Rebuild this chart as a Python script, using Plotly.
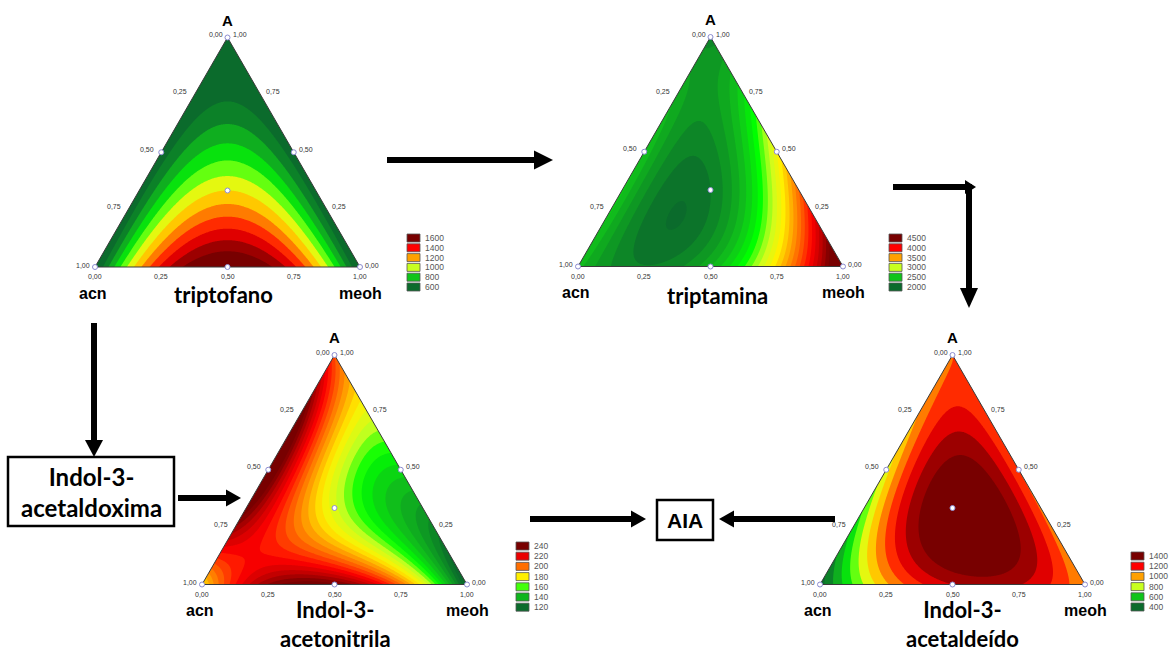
import numpy as np
import plotly.graph_objects as go
from plotly.colors import sample_colorscale

FIG_W, FIG_H = 1170, 651
S3 = np.sqrt(3) / 2
PAD = 0.06  # padding around each triangle, in triangle-side units

# ---------------- data ----------------
# mixture design points (fractions of A, acn, meoh)
design_A    = [1.0, 0.0, 0.0, 0.5, 0.5, 0.0, 1 / 3]
design_acn  = [0.0, 1.0, 0.0, 0.5, 0.0, 0.5, 1 / 3]
design_meoh = [0.0, 0.0, 1.0, 0.0, 0.5, 0.5, 1 / 3]

# responses at the design points
resp_triptofano   = [420, 450, 450, 520, 520, 1750, 1100]
resp_triptamina   = [2150, 2450, 4900, 2500, 3200, 2400, 2100]
resp_acetonitrila = [205, 182, 112, 256, 148, 242, 172]
resp_acetaldeido  = [1100, 350, 1000, 850, 1100, 1300, 1550]

legend_triptofano   = [1600, 1400, 1200, 1000, 800, 600]
legend_triptamina   = [4500, 4000, 3500, 3000, 2500, 2000]
legend_acetonitrila = [240, 220, 200, 180, 160, 140, 120]
legend_acetaldeido  = [1400, 1200, 1000, 800, 600, 400]

tick_vals = [0.0, 0.25, 0.5, 0.75, 1.0]
tick_text = ["0,00", "0,25", "0,50", "0,75", "1,00"]

colorscale = [
    [0.00, "#0B6B2C"], [0.20, "#10C41A"], [0.30, "#00FF00"],
    [0.40, "#C8FF20"], [0.50, "#FFF000"], [0.60, "#FFA000"],
    [0.70, "#FF5500"], [0.80, "#FF0000"], [0.90, "#C00000"],
    [1.00, "#780000"],
]

# ---------------- layout of panels (pixels) ----------------
panels = [
    dict(resp=resp_triptofano, leg=legend_triptofano, step=100,
         left=95, base=267, width=265, title="triptofano",
         tshift=(-4, -27), legpos=(407, 238, 9.8)),
    dict(resp=resp_triptamina, leg=legend_triptamina, step=100,
         left=578, base=266.5, width=265, title="triptamina",
         tshift=(7, -29), legpos=(889, 238, 9.8)),
    dict(resp=resp_acetonitrila, leg=legend_acetonitrila, step=5,
         left=202, base=584.5, width=265, title="Indol-3-<br>acetonitrila",
         tshift=(1, -39), legpos=(516, 546, 10.2)),
    dict(resp=resp_acetaldeido, leg=legend_acetaldeido, step=100,
         left=820, base=584.5, width=265, title="Indol-3-<br>acetaldeído",
         tshift=(10, -39), legpos=(1131, 556, 10.2)),
]


def scheffe_terms(a, c, m):
    return np.stack([a, c, m, a * c, a * m, c * m, a * c * m], axis=-1)


def px(x):
    return x / FIG_W


def py(y):
    return 1 - y / FIG_H


fig = go.Figure()
shapes = []
annotations = []
layout_axes = {}

gx = np.linspace(0, 1, 321)
gy = np.linspace(0, S3, 281)
GX, GY = np.meshgrid(gx, gy)
GA = GY / S3
GM = GX - GA / 2
GC = 1 - GA - GM

lab_font = dict(family="Liberation Sans", size=7, color="#333333")

for i, p in enumerate(panels, start=1):
    xa = "x" if i == 1 else f"x{i}"
    ya = "y" if i == 1 else f"y{i}"
    w = p["width"]
    h = w * S3
    layout_axes["xaxis" if i == 1 else f"xaxis{i}"] = dict(
        domain=[px(p["left"] - PAD * w), px(p["left"] + w + PAD * w)], range=[-PAD, 1 + PAD],
        visible=False, anchor=ya, fixedrange=True)
    layout_axes["yaxis" if i == 1 else f"yaxis{i}"] = dict(
        domain=[py(p["base"] + PAD * w), py(p["base"] - h - PAD * w)], range=[-PAD, S3 + PAD],
        visible=False, anchor=xa, fixedrange=True)

    # fit Scheffe special-cubic mixture model to the design responses
    X = scheffe_terms(np.array(design_A), np.array(design_acn), np.array(design_meoh))
    coef = np.linalg.lstsq(X, np.array(p["resp"], dtype=float), rcond=None)[0]
    Z = scheffe_terms(np.clip(GA, 0, 1), np.clip(GC, 0, 1), np.clip(GM, 0, 1)) @ coef

    lo, hi = min(p["leg"]), max(p["leg"])
    fig.add_trace(go.Contour(
        x=gx, y=gy, z=Z, xaxis=xa, yaxis=ya,
        colorscale=colorscale, zmin=lo, zmax=hi, autocontour=False,
        contours=dict(start=lo, end=hi, size=p["step"], coloring="fill", showlines=False),
        line=dict(width=0), showscale=False, hoverinfo="skip"))

    # white mask outside the triangle, then the outline
    fig.add_trace(go.Scatter(
        x=[-PAD, 0, 0.5, 1, 1 + PAD, 1 + PAD, -PAD, -PAD],
        y=[0, 0, S3, 0, 0, S3 + PAD, S3 + PAD, 0],
        xaxis=xa, yaxis=ya, mode="lines", fill="toself", fillcolor="white",
        line=dict(width=0, color="white"), hoverinfo="skip", showlegend=False))
    fig.add_trace(go.Scatter(
        x=[0, 1, 0.5, 0], y=[0, 0, S3, 0], xaxis=xa, yaxis=ya, mode="lines",
        line=dict(color="#3a3a3a", width=1), hoverinfo="skip", showlegend=False))

    # design points
    dA = np.array(design_A)
    dM = np.array(design_meoh)
    fig.add_trace(go.Scatter(
        x=dM + dA / 2, y=dA * S3, xaxis=xa, yaxis=ya, mode="markers",
        marker=dict(size=5, color="white", line=dict(color="#8c8cd0", width=1)),
        cliponaxis=False, hoverinfo="skip", showlegend=False))

    # tick labels
    for v, t in zip(tick_vals, tick_text):
        annotations.append(dict(x=v, y=0, xref=xa, yref=ya, text=t, showarrow=False,
                                xanchor="center", yanchor="top", yshift=-4, font=lab_font))
    annotations.append(dict(x=0, y=0, xref=xa, yref=ya, text=tick_text[-1], showarrow=False,
                            xanchor="right", yanchor="middle", xshift=-3, yshift=2, font=lab_font))
    annotations.append(dict(x=1, y=0, xref=xa, yref=ya, text=tick_text[0], showarrow=False,
                            xanchor="left", yanchor="middle", xshift=3, yshift=2, font=lab_font))
    annotations.append(dict(x=0.5, y=S3, xref=xa, yref=ya, text=tick_text[0], showarrow=False,
                            xanchor="right", yanchor="middle", xshift=-3, yshift=3, font=lab_font))
    annotations.append(dict(x=0.5, y=S3, xref=xa, yref=ya, text=tick_text[-1], showarrow=False,
                            xanchor="left", yanchor="middle", xshift=3, yshift=3, font=lab_font))
    for v, t in zip(tick_vals[1:-1], tick_text[1:-1]):
        a_left = 1 - v
        annotations.append(dict(x=a_left / 2, y=a_left * S3, xref=xa, yref=ya, text=t,
                                showarrow=False, xanchor="right", yanchor="middle",
                                xshift=-5, yshift=3, font=lab_font))
        annotations.append(dict(x=1 - v / 2, y=v * S3, xref=xa, yref=ya, text=t,
                                showarrow=False, xanchor="left", yanchor="middle",
                                xshift=3, yshift=3, font=lab_font))

    # component labels
    bold = dict(family="Liberation Sans", size=16, color="black")
    annotations.append(dict(x=0.5, y=S3, xref=xa, yref=ya, text="<b>A</b>", showarrow=False,
                            xanchor="center", yanchor="bottom", yshift=7,
                            font=dict(family="Liberation Sans", size=15, color="black")))
    annotations.append(dict(x=0, y=0, xref=xa, yref=ya, text="<b>acn</b>", showarrow=False,
                            xanchor="center", yanchor="middle", yshift=-26, xshift=-2, font=bold))
    annotations.append(dict(x=1, y=0, xref=xa, yref=ya, text="<b>meoh</b>", showarrow=False,
                            xanchor="center", yanchor="middle", yshift=-26, font=bold))
    annotations.append(dict(x=0.5, y=0, xref=xa, yref=ya, text=f"<b>{p['title']}</b>",
                            showarrow=False, xanchor="center", yanchor="middle",
                            xshift=p["tshift"][0], yshift=p["tshift"][1],
                            font=dict(family="Lato", size=22, color="black")))

    # legend swatches
    lx, ly, dy = p["legpos"]
    cols = sample_colorscale(colorscale, [(v - lo) / (hi - lo) for v in p["leg"]])
    for k, (v, c) in enumerate(zip(p["leg"], cols)):
        yc = ly + k * dy
        shapes.append(dict(type="rect", xref="paper", yref="paper",
                           x0=px(lx), x1=px(lx + 13), y0=py(yc - 4), y1=py(yc + 4),
                           fillcolor=c, line=dict(color="#555555", width=0.8)))
        annotations.append(dict(x=px(lx + 16), y=py(yc), xref="paper", yref="paper",
                                text=str(v), showarrow=False, xanchor="left", yanchor="middle",
                                font=dict(family="Liberation Sans", size=8.5, color="#555555")))

# ---------------- arrows and boxes (pixels) ----------------
arrow_lines = [  # (x0, y0, x1, y1)
    (387, 160, 535, 160),
    (893, 187, 966, 187),
    (969, 184, 969, 290),
    (94, 323, 94, 442),
    (178, 498, 229, 498),
    (530, 519, 634, 519),
    (835, 519, 731, 519),
]
arrow_heads = [  # (tip_x, tip_y, direction, length, half_width)
    (553, 160, "r", 19, 9.5),
    (976, 187, "r", 11, 7),
    (969, 308, "d", 20, 9),
    (94, 457, "d", 17, 9),
    (241, 498, "r", 15, 8.5),
    (646, 519, "r", 15, 8.5),
    (719, 519, "l", 15, 8.5),
]
for x0, y0, x1, y1 in arrow_lines:
    shapes.append(dict(type="line", xref="paper", yref="paper",
                       x0=px(x0), y0=py(y0), x1=px(x1), y1=py(y1),
                       line=dict(color="black", width=6)))
for tx, ty, d, ln, hw in arrow_heads:
    if d == "r":
        pts = [(tx, ty), (tx - ln, ty - hw), (tx - ln, ty + hw)]
    elif d == "l":
        pts = [(tx, ty), (tx + ln, ty - hw), (tx + ln, ty + hw)]
    else:
        pts = [(tx, ty), (tx - hw, ty - ln), (tx + hw, ty - ln)]
    path = "M " + " L ".join(f"{px(a)},{py(b)}" for a, b in pts) + " Z"
    shapes.append(dict(type="path", xref="paper", yref="paper", path=path,
                       fillcolor="black", line=dict(width=0)))

boxes = [  # (x0, y0, x1, y1, text, size)
    (8, 457, 174, 526, "Indol-3-<br>acetaldoxima", 24),
    (657, 500, 713, 540, "AIA", 21),
]
for x0, y0, x1, y1, t, s in boxes:
    shapes.append(dict(type="rect", xref="paper", yref="paper",
                       x0=px(x0), y0=py(y0), x1=px(x1), y1=py(y1),
                       fillcolor="white", line=dict(color="black", width=2.5)))
    fam = "Lato" if "Indol" in t else "Liberation Sans"
    annotations.append(dict(x=px((x0 + x1) / 2), y=py((y0 + y1) / 2), xref="paper", yref="paper",
                            text=f"<b>{t}</b>", showarrow=False, xanchor="center", yanchor="middle",
                            font=dict(family=fam, size=s, color="black")))

fig.update_layout(
    width=FIG_W, height=FIG_H, margin=dict(l=0, r=0, t=0, b=0),
    paper_bgcolor="white", plot_bgcolor="rgba(0,0,0,0)",
    showlegend=False, shapes=shapes, annotations=annotations, **layout_axes)

fig.write_html("out.html")
